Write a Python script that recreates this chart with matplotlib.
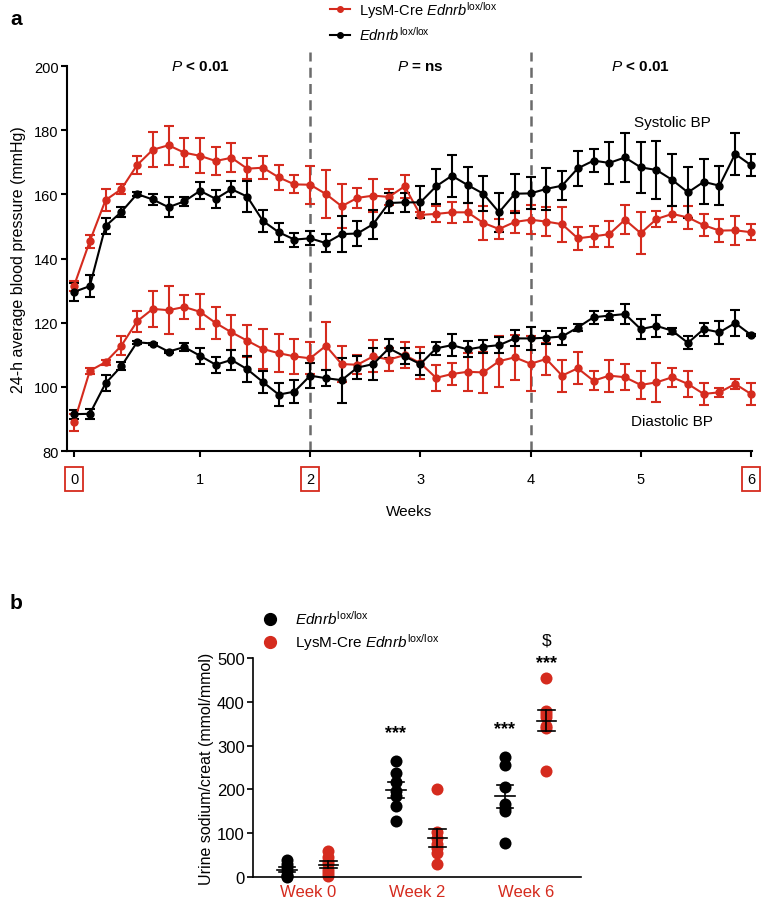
import numpy as np
import matplotlib
matplotlib.use("Agg")
import matplotlib.pyplot as plt
from matplotlib.lines import Line2D

plt.rcParams['font.family'] = ['Liberation Sans', 'DejaVu Sans']
plt.rcParams['mathtext.fontset'] = 'custom'
plt.rcParams['mathtext.rm'] = 'Liberation Sans'
plt.rcParams['mathtext.it'] = 'Liberation Sans:italic'
plt.rcParams['mathtext.bf'] = 'Liberation Sans:bold'

RED = '#d52b1e'
BLK = '#000000'

# ---- panel a data (one point per day, 44 days) ----
week_labels = ['0', '1', '2', '3', '4', '5', '6']
week_pos = [0, 8, 15, 22, 29, 36, 43]

red_sys = [131.5, 145.4, 158.2, 161.6, 169.1, 173.9, 175.3, 173.0, 172.0, 170.4,
           171.4, 168.0, 168.3, 165.3, 163.1, 163.0, 160.1, 156.3, 158.9, 159.6,
           159.2, 162.5, 153.6, 153.9, 154.4, 154.4, 151.1, 149.2, 151.4, 152.1,
           151.5, 150.7, 146.3, 146.9, 147.6, 152.1, 147.9, 152.3, 153.9, 152.8,
           150.4, 148.7, 148.8, 148.2]
red_sys_err = [1.5, 2.0, 3.5, 1.5, 2.8, 5.5, 6.0, 4.5, 5.5, 4.5,
               4.5, 3.2, 3.5, 4.0, 2.8, 5.9, 7.6, 6.8, 3.1, 5.2,
               2.5, 3.5, 1.0, 2.5, 3.3, 3.0, 5.3, 3.0, 3.4, 4.5,
               4.5, 5.5, 3.5, 3.3, 4.0, 4.5, 6.5, 2.5, 2.5, 3.5,
               3.5, 3.5, 4.5, 2.5]
blk_sys = [129.6, 131.4, 150.1, 154.5, 160.1, 158.4, 156.0, 157.8, 161.1, 158.6,
           161.6, 159.3, 151.7, 148.2, 145.9, 146.3, 144.8, 147.6, 147.8, 150.7,
           157.3, 157.5, 157.5, 162.5, 165.8, 162.9, 160.2, 154.4, 160.2, 160.3,
           161.7, 162.7, 168.1, 170.5, 169.8, 171.5, 168.4, 167.6, 164.5, 160.6,
           163.9, 162.7, 172.6, 169.1]
blk_sys_err = [2.8, 3.5, 2.5, 1.5, 0.5, 1.8, 3.2, 1.3, 2.6, 2.7,
               2.5, 4.8, 3.4, 3.0, 2.2, 2.2, 2.7, 5.5, 4.0, 4.5,
               3.0, 3.0, 5.0, 5.5, 6.5, 5.5, 5.5, 6.0, 6.0, 5.0,
               6.5, 4.5, 5.5, 3.5, 6.5, 7.5, 8.0, 9.0, 8.0, 8.0,
               7.0, 6.0, 6.5, 3.5]
red_dia = [88.9, 105.0, 107.7, 112.8, 120.4, 124.3, 123.9, 124.9, 123.4, 119.9,
           117.0, 114.4, 111.8, 110.5, 109.5, 108.9, 112.8, 107.1, 106.9, 109.5,
           108.5, 109.9, 107.4, 102.8, 104.0, 104.7, 104.5, 108.0, 109.2, 107.2,
           108.7, 103.5, 105.8, 101.9, 103.5, 103.0, 100.6, 101.4, 103.0, 100.9,
           97.8, 98.3, 100.9, 97.8]
red_dia_err = [2.8, 1.0, 0.8, 3.0, 3.4, 5.5, 7.5, 3.8, 5.5, 5.0,
               5.5, 5.0, 6.3, 6.0, 5.5, 5.0, 7.5, 5.5, 3.0, 5.0,
               3.5, 4.0, 5.0, 4.0, 3.5, 6.0, 6.5, 8.0, 7.0, 8.5,
               5.0, 5.0, 5.0, 3.0, 5.0, 4.0, 4.5, 6.0, 3.0, 4.0,
               3.5, 1.5, 1.5, 3.5]
blk_dia = [91.5, 91.6, 101.1, 106.4, 113.9, 113.5, 111.0, 112.4, 109.7, 106.9,
           108.4, 105.5, 101.5, 97.6, 98.5, 103.5, 102.7, 102.1, 106.0, 107.1,
           112.0, 109.5, 107.1, 112.0, 113.0, 111.7, 112.5, 113.0, 115.1, 115.1,
           115.3, 115.7, 118.5, 121.7, 122.2, 122.7, 118.0, 119.0, 117.5, 113.7,
           118.0, 117.0, 119.9, 116.2]
blk_dia_err = [1.4, 1.5, 2.5, 1.2, 0.5, 0.3, 0.3, 1.2, 2.5, 2.5,
               3.0, 4.0, 3.5, 3.5, 3.5, 4.0, 2.5, 7.0, 3.5, 5.0,
               3.0, 2.5, 3.5, 2.0, 3.5, 2.5, 2.0, 2.5, 2.5, 3.5,
               2.0, 2.5, 1.0, 2.0, 1.5, 3.0, 3.0, 3.5, 1.0, 2.0,
               2.0, 3.5, 4.0, 0.3]

period_labels = [r'$\it{P}$ < 0.01', r'$\it{P}$ = ns', r'$\it{P}$ < 0.01']

# ---- panel b data ----
groups = ['Week 0', 'Week 2', 'Week 6']
na_ctrl = [[38, 30, 22, 12, 5, 2, 0],
           [265, 237, 217, 197, 185, 162, 128],
           [275, 255, 205, 166, 158, 150, 77]]
na_ko = [[60, 45, 35, 28, 15, 8, 2],
         [200, 102, 88, 76, 65, 55, 29],
         [455, 380, 372, 365, 345, 340, 241]]

fig = plt.figure(figsize=(7.62, 9.03), dpi=100)

# ================= panel a =================
ax = fig.add_axes([0.0879, 0.4994, 0.899, 0.4264])
days = np.arange(len(red_sys))
ekw = dict(marker='o', markersize=5, linewidth=1.5, elinewidth=1.5,
           capsize=3.5, capthick=1.5, clip_on=False)
ax.errorbar(days, red_sys, yerr=red_sys_err, color=RED, **ekw)
ax.errorbar(days, red_dia, yerr=red_dia_err, color=RED, **ekw)
ax.errorbar(days, blk_sys, yerr=blk_sys_err, color=BLK, **ekw)
ax.errorbar(days, blk_dia, yerr=blk_dia_err, color=BLK, **ekw)

for xv in (week_pos[2], week_pos[4]):
    ax.plot([xv, xv], [80, 204.5], ls=(0, (4, 2.5)), color='#6b6b6b',
            lw=1.8, clip_on=False, zorder=0)

ax.set_xlim(-0.45, 43.07)
ax.set_ylim(80, 200)
ax.set_yticks([80, 100, 120, 140, 160, 180, 200])
ax.set_xticks(week_pos)
ax.set_xticklabels(week_labels)
for sp in ('top', 'right'):
    ax.spines[sp].set_visible(False)
for sp in ('left', 'bottom'):
    ax.spines[sp].set_linewidth(1.5)
ax.tick_params(axis='y', labelsize=10.5, width=1.5, length=4, pad=2)
ax.tick_params(axis='x', labelsize=10.5, width=1.5, length=4, pad=11)
for k, lab in enumerate(ax.get_xticklabels()):
    if k in (0, 2, 6):
        lab.set_bbox(dict(facecolor='none', edgecolor=RED, linewidth=1.3,
                          boxstyle='square,pad=0.35'))
ax.set_ylabel('24-h average blood pressure (mmHg)', fontsize=11.5, labelpad=6)
ax.set_xlabel('Weeks', fontsize=11, labelpad=13)

mids = [(week_pos[0] + week_pos[2]) / 2 + 0.5, (week_pos[2] + week_pos[4]) / 2,
        (week_pos[4] + week_pos[6]) / 2]
for xm, t in zip(mids, period_labels):
    ax.text(xm, 200, t, ha='center', va='center', fontsize=11, fontweight='bold')
ax.text(38, 182.5, 'Systolic BP', ha='center', va='center', fontsize=11)
ax.text(38, 89.5, 'Diastolic BP', ha='center', va='center', fontsize=11)

leg_a = [Line2D([], [], color=RED, marker='o', markersize=4, lw=1.5),
         Line2D([], [], color=BLK, marker='o', markersize=4, lw=1.5)]
fig.legend(leg_a, [r'LysM-Cre $\it{Ednrb}^{\rm lox/lox}$', r'$\it{Ednrb}^{\rm lox/lox}$'],
           loc='upper left', bbox_to_anchor=(0.433, 1.0), frameon=False,
           fontsize=10.5, handlelength=1.4, handletextpad=0.6, labelspacing=0.35,
           borderpad=0.0, borderaxespad=0.0)

fig.text(0.013, 0.978, 'a', fontsize=15, fontweight='bold', va='center')
fig.text(0.013, 0.332, 'b', fontsize=15, fontweight='bold', va='center')

# ================= panel b =================
bx = fig.add_axes([0.332, 0.028, 0.4304, 0.2419])
off = 0.19
for g in range(len(groups)):
    for vals, col, dx in ((na_ctrl[g], BLK, -off), (na_ko[g], RED, off)):
        v = np.array(vals, dtype=float)
        xg = g + dx
        bx.scatter(np.full(len(v), xg), v, s=75, color=col, zorder=2,
                   clip_on=False, linewidths=0)
        m = v.mean()
        se = v.std(ddof=1) / np.sqrt(len(v))
        bx.plot([xg - 0.09, xg + 0.09], [m, m], color='k', lw=1.2, zorder=3)
        for yy in (m - se, m + se):
            bx.plot([xg - 0.075, xg + 0.075], [yy, yy], color='k', lw=1.2, zorder=3)
        bx.plot([xg, xg], [m - se, m + se], color='k', lw=1.2, zorder=3)

star_kw = dict(ha='center', va='center', fontsize=13, fontweight='bold')
bx.text(1 - off, 329, '***', **star_kw)
bx.text(2 - off, 338, '***', **star_kw)
bx.text(2 + off, 489, '***', **star_kw)
bx.text(2 + off, 542, '$', ha='center', va='center', fontsize=12.5)

bx.set_xlim(-0.502, 2.507)
bx.set_ylim(0, 500)
bx.set_yticks([0, 100, 200, 300, 400, 500])
bx.set_xticks(range(len(groups)))
bx.set_xticklabels(groups, color=RED)
for sp in ('top', 'right'):
    bx.spines[sp].set_visible(False)
for sp in ('left', 'bottom'):
    bx.spines[sp].set_linewidth(1.2)
bx.tick_params(axis='y', labelsize=12, width=1.2, length=4, pad=2)
bx.tick_params(axis='x', labelsize=12, length=0, pad=5)
bx.set_ylabel('Urine sodium/creat (mmol/mmol)', fontsize=11.5, labelpad=2)

leg_b = [Line2D([], [], color=BLK, marker='o', markersize=8.5, lw=0),
         Line2D([], [], color=RED, marker='o', markersize=8.5, lw=0)]
fig.legend(leg_b, [r'$\it{Ednrb}^{\rm lox/lox}$', r'LysM-Cre $\it{Ednrb}^{\rm lox/lox}$'],
           loc='upper left', bbox_to_anchor=(0.339, 0.3245), frameon=False,
           fontsize=11, handlelength=1.5, handletextpad=0.9, labelspacing=0.3,
           borderpad=0.0, borderaxespad=0.0)

fig.savefig('out.png', dpi=100)
